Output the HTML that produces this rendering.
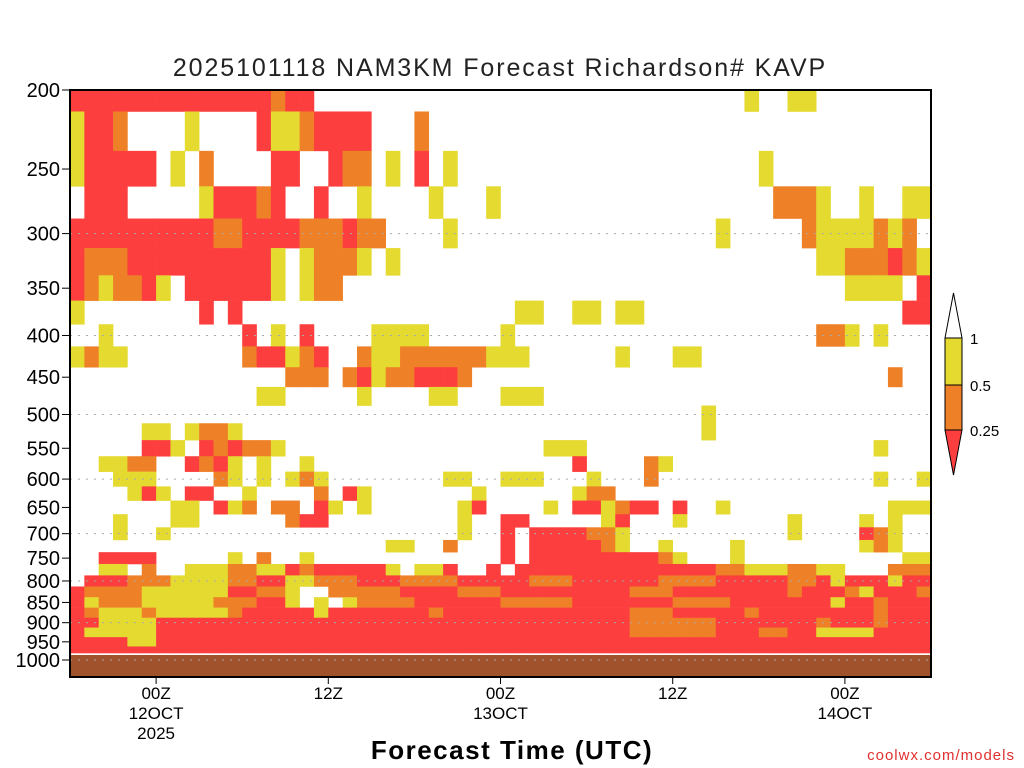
<!DOCTYPE html>
<html><head><meta charset="utf-8"><style>
html,body{margin:0;padding:0;background:#fff;}
svg{display:block;font-family:"Liberation Sans",sans-serif;}
</style></head><body>
<svg id="chart" width="1024" height="768" viewBox="0 0 1024 768">
<text x="500" y="76" text-anchor="middle" font-size="25" font-family="Liberation Sans" letter-spacing="1.9" fill="#222">2025101118 NAM3KM Forecast Richardson# KAVP</text>
<g id="cells"></g>
<rect x="70" y="655" width="861" height="22" fill="#a0522d"/>
<g id="grid"></g>
<rect x="70" y="90" width="861" height="587" fill="none" stroke="#000" stroke-width="2"/>
<g id="yaxis"></g>
<g id="xaxis"></g>
<text x="512" y="759" text-anchor="middle" font-size="26" font-weight="bold" letter-spacing="1.5" fill="#000">Forecast Time (UTC)</text>
<text x="1015" y="760" text-anchor="end" font-size="15" fill="#e03030" letter-spacing="1">coolwx.com/models</text>
<g>
<polygon points="945,338 962,338 953.5,293" fill="#fff" stroke="#000"/>
<rect x="945" y="338" width="17" height="47" fill="#e4da30" stroke="#000"/>
<rect x="945" y="385" width="17" height="45" fill="#ee8027" stroke="#000"/>
<polygon points="945,430 962,430 953.5,475" fill="#fc3e3e" stroke="#000"/>
<text x="970" y="344" font-size="15">1</text>
<text x="970" y="391" font-size="15">0.5</text>
<text x="970" y="436" font-size="15">0.25</text>
</g>
</svg>
<script>
const levels=[200,225,250,275,300,325,350,375,400,425,450,475,500,525,550,575,600,625,650,675,700,725,750,775,800,825,850,875,900,925,950,975,1000];
const riRows=[
"333333333333332330000000000000000000000000000001001100000000",
"133200001000031123333000200000000000000000000000000000000000",
"133333010200003300322010301000000000000000000000100000000000",
"033300000133323003001000010001000000000000000000022210010011",
"333333333322333322232200001000000000000000000100000211112120",
"322233333333331012221010000000000000000000000000000011222321",
"321223103333331012200000000000000000000000000000000000111103",
"100000000303000000000000000000011001101100000000000000000033",
"001000000000301030000111100000100000000000000000000022101000",
"121100000000233123002112222221110000001000110000000000000000",
"000000000000000222023122333200000000000000000000000000000200",
"000000000000011000001000011000111000000000000000000000000000",
"000000000000000000000000000000000000000000001000000000000000",
"000001101221000000000000000000000000000000001000000000000000",
"000003310323221000000000000000000111000000000000000000001000",
"001122003231010010000000000000000003000021000000000000000000",
"000111000021010121000000001100111000100020000000000000001001",
"000013103300100002031000000010000001220000000000000000000000",
"000000011031202203101000000130000103312330300100000000000111",
"000100011000000233000000000100330000013000100000001000010100",
"000100100000000000000000000100303333221000000000001000032100",
"000000000000000000000011002000303333321001000010000000012100",
"003333000001020010000000000000303333333332100010000000000011",
"001102001112211323333310113003033333333333333221112211000222",
"033322211112233112223332222333332223333332222333332231333133",
"322221111113322100222223333222333333333222333333332333213332",
"312221111122233101012222333333222223333333222233333331332333",
"321112111112333331333333323333333333333222333332333333332333",
"331111333333333333333333333333333333333222222333333323332333",
"311111333333333333333333333333333333333222222333223311113333",
"333311333333333333333333333333333333333333333333333333333333",
"333333333333333333333333333333333333333333333333333333333333",
"000000000000000000000000000000000000000000000000000000000000"
];
const yTicks=[200,250,300,350,400,450,500,550,600,650,700,750,800,850,900,950,1000];
const gridLevels=[300,400,500,600,700,800,900,1000];
const xTickHours=[6,18,30,42,54];
const xTickLabels=["00Z","12Z","00Z","12Z","00Z"];
const xDateLabels=["12OCT","","13OCT","","14OCT"];
const nHours=60;
const colors=["none","#e4da30","#ee8027","#fc3e3e"];
const NS="http://www.w3.org/2000/svg";
const X0=70,X1=931,YT=90,Y1000=660,YGROUND=653;
function yScale(p){return YT+(Y1000-YT)*Math.log10(p/200)/Math.log10(5);}
function xScale(h){return X0+(X1-X0)*h/nHours;}
const cells=document.getElementById('cells');
levels.forEach((p,li)=>{
  const row=riRows[li];
  let y0=Math.max(YT,yScale(p-12.5)), y1=Math.min(YGROUND,yScale(p+12.5));
  if(y1<=y0) return;
  for(let i=0;i<row.length;i++){
    const v=+row[i]; if(!v) continue;
    const r=document.createElementNS(NS,'rect');
    r.setAttribute('x',xScale(i)); r.setAttribute('y',y0);
    r.setAttribute('width',xScale(i+1)-xScale(i)+0.3); r.setAttribute('height',y1-y0+0.3);
    r.setAttribute('fill',colors[v]);
    
    
    cells.appendChild(r);
  }
});
const grid=document.getElementById('grid');
gridLevels.forEach(p=>{
  const l=document.createElementNS(NS,'line');
  l.setAttribute('x1',X0);l.setAttribute('x2',X1);l.setAttribute('y1',yScale(p));l.setAttribute('y2',yScale(p));
  l.setAttribute('stroke','#aaa');l.setAttribute('stroke-dasharray','2,6');
  
  
  grid.appendChild(l);
});
const ya=document.getElementById('yaxis');
yTicks.forEach(p=>{
  const y=yScale(p);
  const t=document.createElementNS(NS,'line');
  t.setAttribute('x1',62);t.setAttribute('x2',70);t.setAttribute('y1',y);t.setAttribute('y2',y);t.setAttribute('stroke','#000');
  
  
  ya.appendChild(t);
  const tx=document.createElementNS(NS,'text');
  tx.setAttribute('x',60);tx.setAttribute('y',y+7);tx.setAttribute('text-anchor','end');tx.setAttribute('font-size','20');
  tx.textContent=p;
  
  
  ya.appendChild(tx);
});
const xa=document.getElementById('xaxis');
xTickHours.forEach((h,i)=>{
  const x=xScale(h);
  const t=document.createElementNS(NS,'line');
  t.setAttribute('x1',x);t.setAttribute('x2',x);t.setAttribute('y1',677);t.setAttribute('y2',684);t.setAttribute('stroke','#000');
  
  
  xa.appendChild(t);
  const lines=[xTickLabels[i],xDateLabels[i]];
  if(i===0) lines.push("2025");
  lines.forEach((s,k)=>{
    if(!s) return;
    const tx=document.createElementNS(NS,'text');
    tx.setAttribute('x',x);tx.setAttribute('y',699+k*20);tx.setAttribute('text-anchor','middle');tx.setAttribute('font-size','17');
    tx.textContent=s;
    
    
    xa.appendChild(tx);
  });
});
</script>
</body></html>
